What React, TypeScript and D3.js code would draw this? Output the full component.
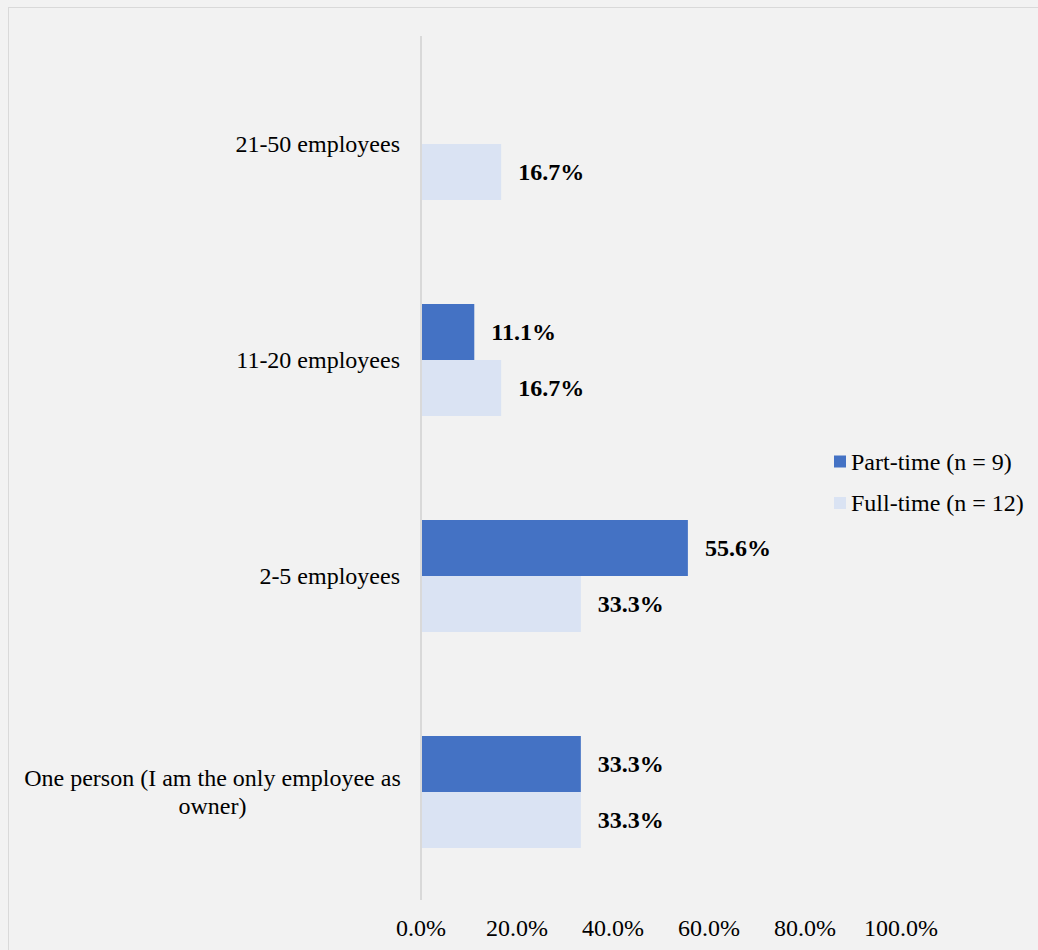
import React from "react";
import * as d3 from "d3";

const categories = ["21-50 employees", "11-20 employees", "2-5 employees", "One person (I am the only employee as owner)"];
const categoryLines = [["21-50 employees"], ["11-20 employees"], ["2-5 employees"], ["One person (I am the only employee as", "owner)"]];
const seriesNames = ["Part-time (n = 9)", "Full-time (n = 12)"];
const partTime = [0, 11.1, 55.6, 33.3];
const fullTime = [16.7, 16.7, 33.3, 33.3];
const xTicks = [0, 20, 40, 60, 80, 100];
const colors = ["#4472c4", "#dae3f3"];

const W = 1038;
const H = 950;
const FONT = "'Liberation Serif', 'Times New Roman', Times, serif";

export default function App() {
  const x = d3.scaleLinear().domain([0, 100]).range([421, 901]);
  const y = d3.scaleBand<string>().domain(categories).range([36, 900]).paddingInner(0.4815).paddingOuter(0.4815 / 2);
  const sub = d3.scaleBand<string>().domain(seriesNames).range([0, y.bandwidth()]);
  const seriesVals = [partTime, fullTime];

  return (
    <svg width={W} height={H} style={{ position: "absolute", left: 0, top: 0, fontFamily: FONT }}>
      <rect x={0} y={0} width={W} height={H} fill="#f2f2f2" />
      <rect x={8.5} y={7.5} width={W + 10} height={H + 10} fill="#f2f2f2" stroke="#d9d9d9" strokeWidth={1} />
      {categories.map((c, i) =>
        seriesNames.map((s, j) => {
          const v = seriesVals[j][i];
          if (v <= 0) return null;
          const y0 = (y(c) ?? 0) + (sub(s) ?? 0);
          return (
            <g key={c + s}>
              <rect x={x(0)} y={y0} width={x(v) - x(0)} height={sub.bandwidth()} fill={colors[j]} />
              <text x={x(v) + 17} y={y0 + sub.bandwidth() / 2} dy="0.35em" fontSize={24} fontWeight="bold" fill="#000">
                {v.toFixed(1) + "%"}
              </text>
            </g>
          );
        })
      )}
      <line x1={x(0)} x2={x(0)} y1={36} y2={900} stroke="#d9d9d9" strokeWidth={2} />
      {xTicks.map((t) => (
        <text key={t} x={x(t)} y={928} dy="0.35em" textAnchor="middle" fontSize={24} fill="#000">
          {t.toFixed(1) + "%"}
        </text>
      ))}
      {categories.map((c, i) => {
        const lines = categoryLines[i];
        const cy = (y(c) ?? 0) + y.bandwidth() / 2;
        if (lines.length === 1) {
          return (
            <text key={c} x={400} y={cy} dy="0.35em" textAnchor="end" fontSize={24} fill="#000">
              {lines[0]}
            </text>
          );
        }
        const lh = 28;
        const top = cy - ((lines.length - 1) * lh) / 2;
        return (
          <text key={c} x={212.5} y={top} textAnchor="middle" fontSize={24} fill="#000">
            {lines.map((l, k) => (
              <tspan key={k} x={212.5} y={top + k * lh} dy="0.35em">
                {l}
              </tspan>
            ))}
          </text>
        );
      })}
      {seriesNames.map((s, j) => (
        <g key={s} transform={`translate(834, ${461.5 + j * 41.5})`}>
          <rect x={0} y={-6} width={12} height={12} fill={colors[j]} />
          <text x={17} y={0} dy="0.35em" fontSize={24} fill="#000">
            {s}
          </text>
        </g>
      ))}
    </svg>
  );
}
